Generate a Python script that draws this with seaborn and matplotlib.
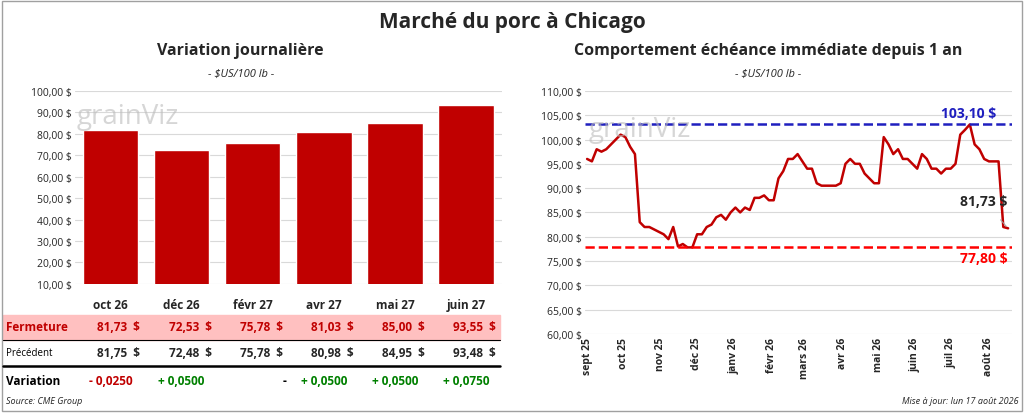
import matplotlib
matplotlib.use("Agg")
import matplotlib.pyplot as plt
import matplotlib.transforms as mtrans
import seaborn as sns
import pandas as pd
import numpy as np

contracts = ["oct 26", "déc 26", "févr 27", "avr 27", "mai 27", "juin 27"]
closing = [81.73, 72.53, 75.78, 81.03, 85.00, 93.55]
previous = [81.75, 72.48, 75.78, 80.98, 84.95, 93.48]
variation = ["- 0,0250", "+ 0,0500", "-", "+ 0,0500", "+ 0,0500", "+ 0,0750"]

hist_values = [96, 95.5, 98, 97.5, 98, 99, 100, 101, 100.5, 98.5, 97,
               83, 82, 82, 81.5, 81, 80.5, 79.5, 82, 78, 78.5, 77.8, 77.8, 80.5,
               80.5, 82, 82.5, 84, 84.5, 83.5, 85, 86, 85, 86, 85.5, 88, 88, 88.5,
               87.5, 87.5, 92, 93.5, 96, 96, 97, 95.5, 94, 94, 91, 90.5, 90.5, 90.5,
               90.5, 91, 95, 96, 95, 95, 93, 92, 91, 91, 100.5, 99, 97, 98, 96, 96,
               95, 94, 97, 96, 94, 94, 93, 94, 94, 95, 101, 102, 103.1, 99, 98, 96,
               95.5, 95.5, 95.5, 82, 81.73]
hist_start, hist_end = "2025-09-01", "2026-08-17"
high_val, low_val = 103.10, 77.80
month_labels = ["sept 25", "oct 25", "nov 25", "déc 25", "janv 26", "févr 26", "mars 26",
                "avr 26", "mai 26", "juin 26", "juil 26", "août 26"]

sns.set_theme(style="white")
plt.rcParams['font.family'] = ['Open Sans', 'DejaVu Sans']
RED = "#c00000"

fig = plt.figure(figsize=(10.24, 4.14), dpi=100)
fig.patches.append(plt.Rectangle((0.002, 0.005), 0.996, 0.99, transform=fig.transFigure,
                                 fill=False, ec="#a0a0a0", lw=1))
fig.text(0.5, 0.945, "Marché du porc à Chicago", ha="center", va="center",
         fontsize=15, fontweight="bold")

# Left bar chart
ax1 = fig.add_axes([0.073, 0.312, 0.417, 0.466])
df = pd.DataFrame({"c": contracts, "v": closing})
sns.barplot(data=df, x="c", y="v", color=RED, saturation=1, width=0.78, ax=ax1)
ax1.set_ylim(10, 100)
ax1.set_yticks(np.arange(10, 101, 10))
ax1.set_yticklabels([f"{v:.2f} $".replace(".", ",") for v in np.arange(10, 101, 10)], fontsize=7.5)
ax1.yaxis.grid(True, color="#d9d9d9", lw=0.8)
ax1.set_axisbelow(True)
ax1.set_xticklabels([])
ax1.set_xlabel(""); ax1.set_ylabel("")
ax1.tick_params(axis="both", length=0, pad=2)
for s in ax1.spines.values():
    s.set_visible(False)
fig.text(0.235, 0.868, "Variation journalière", ha="center", fontsize=11.5, fontweight="bold")
fig.text(0.235, 0.815, "- $US/100 lb -", ha="center", fontsize=8, style="italic")

tr = mtrans.blended_transform_factory(ax1.transData, fig.transFigure)
y_cat, y_f, y_p, y_v = 1 - 306/414, 1 - 328/414, 1 - 354/414, 1 - 382/414
fig.patches.append(plt.Rectangle((0.003, 1 - 341/414), 0.485, 25/414, transform=fig.transFigure,
                                 color="#ffc0c0", zorder=0))
fig.lines.append(plt.Line2D([0.003, 0.488], [1 - 341/414]*2, transform=fig.transFigure, color="black", lw=0.8))
fig.lines.append(plt.Line2D([0.003, 0.488], [1 - 367/414]*2, transform=fig.transFigure, color="black", lw=1.8))
fig.text(0.006, y_f, "Fermeture", color=RED, fontsize=8.5, fontweight="bold", va="center")
fig.text(0.006, y_p, "Précédent", color="black", fontsize=7, va="center")
fig.text(0.006, y_v, "Variation", color="black", fontsize=8.5, fontweight="bold", va="center")
fig.text(0.006, 1 - 402/414, "Source: CME Group", fontsize=6.5, style="italic", va="center")
for i, c in enumerate(contracts):
    fig.text(i, y_cat, c, transform=tr, ha="center", va="center", fontsize=8.5, fontweight="bold")
    fig.text(i + 0.12, y_f, f"{closing[i]:.2f}  $".replace(".", ","), transform=tr, ha="center",
             va="center", fontsize=8.5, fontweight="bold", color=RED)
    fig.text(i + 0.12, y_p, f"{previous[i]:.2f}  $".replace(".", ","), transform=tr, ha="center",
             va="center", fontsize=8.5, fontweight="bold")
    col = RED if variation[i].startswith("-") and len(variation[i]) > 1 else ("#008000" if variation[i] != "-" else "black")
    fig.text(i + (0.45 if variation[i] == "-" else 0), y_v, variation[i], transform=tr, ha="center",
             va="center", fontsize=8.5, fontweight="bold", color=col)
fig.text(0.075, 0.70, "grainViz", fontsize=20, color="#bbbbbb", alpha=0.6)

# Right line chart
ax2 = fig.add_axes([0.571, 0.191, 0.417, 0.587])
dates = pd.date_range(hist_start, hist_end, periods=len(hist_values))
ldf = pd.DataFrame({"d": dates, "v": hist_values})
sns.lineplot(data=ldf, x="d", y="v", color=RED, lw=1.8, ax=ax2)
ax2.axhline(high_val, color="#1f1fbf", ls="--", lw=1.8)
ax2.axhline(low_val, color="#ff0000", ls="--", lw=1.8)
ax2.set_ylim(60, 110)
ax2.set_xlim(pd.Timestamp("2025-08-30"), pd.Timestamp("2026-08-20"))
ax2.set_yticks(np.arange(60, 111, 5))
ax2.set_yticklabels([f"{v:.2f} $".replace(".", ",") for v in np.arange(60, 111, 5)], fontsize=7.5)
mt = pd.date_range("2025-09-01", periods=12, freq="MS")
ax2.set_xticks(mt)
ax2.set_xticklabels(month_labels, rotation=90, fontsize=7.5, fontweight="bold")
ax2.yaxis.grid(True, color="#d9d9d9", lw=0.8)
ax2.set_xlabel(""); ax2.set_ylabel("")
ax2.tick_params(axis="both", length=0, pad=2)
for s in ax2.spines.values():
    s.set_visible(False)
ax2.text(pd.Timestamp("2026-07-15"), high_val + 1.0, "103,10 $", color="#1f1fbf", fontsize=10,
         fontweight="bold", ha="center", va="bottom")
ax2.text(pd.Timestamp("2026-07-28"), 77.0, "77,80 $", color="#ff0000", fontsize=10,
         fontweight="bold", ha="center", va="top")
ax2.annotate("81,73 $", xy=(dates[-1], hist_values[-1]), xytext=(pd.Timestamp("2026-07-28"), 87.3),
             fontsize=10, fontweight="bold", ha="center", va="center",
             arrowprops=dict(arrowstyle="-", color="#a0a0a0", lw=0.7, shrinkA=8))
fig.text(0.75, 0.868, "Comportement échéance immédiate depuis 1 an", ha="center", fontsize=11.5, fontweight="bold")
fig.text(0.75, 0.815, "- $US/100 lb -", ha="center", fontsize=8, style="italic")
fig.text(0.575, 0.67, "grainViz", fontsize=20, color="#bbbbbb", alpha=0.6)
fig.text(0.995, 1 - 402/414, "Mise à jour: lun 17 août 2026", fontsize=6.5, style="italic",
         ha="right", va="center")

fig.savefig("out.png", dpi=100)
